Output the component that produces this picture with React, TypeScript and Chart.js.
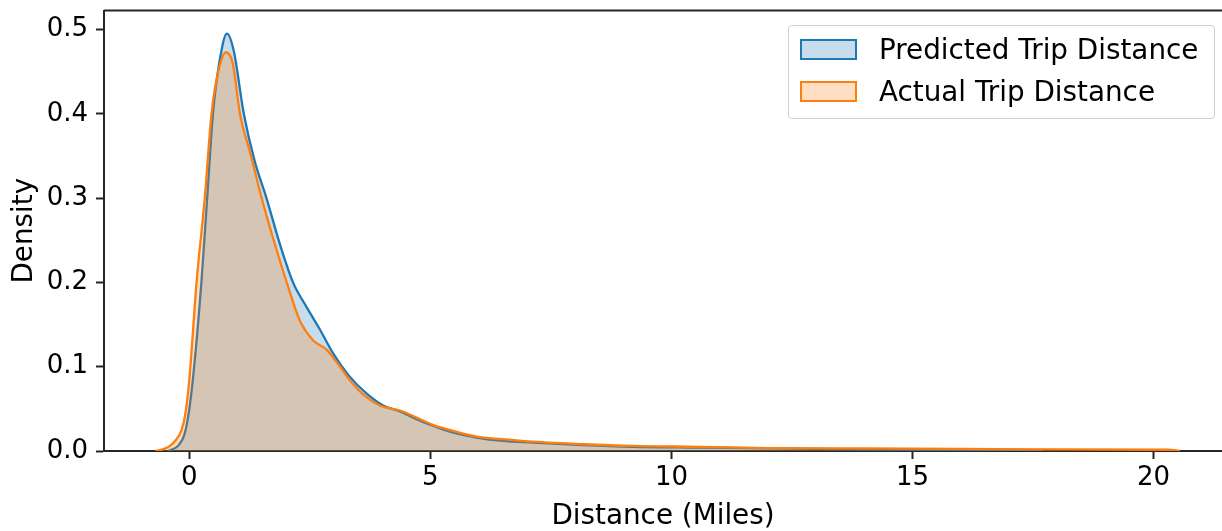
import { useRef, useEffect } from "react";
import { Chart, ChartConfiguration, Plugin, registerables } from "chart.js";

Chart.register(...registerables);

// KDE curves (x in miles, y density)
const predictedX = [-0.45, -0.35, -0.22, -0.1, 0.0, 0.1, 0.25, 0.37, 0.49, 0.62, 0.78, 0.92, 1.13, 1.35, 1.6, 1.88, 2.15, 2.43, 2.7, 2.98, 3.3, 3.68, 4.02, 4.37, 4.7, 5.05, 5.4, 5.96, 6.5, 7.13, 8.17, 9.2, 10.6, 12, 14, 16, 17.2, 17.7];
const predictedY = [0, 0.002, 0.007, 0.02, 0.05, 0.1, 0.2, 0.3, 0.4, 0.46, 0.495, 0.475, 0.4, 0.345, 0.3, 0.245, 0.2, 0.171, 0.145, 0.116, 0.09, 0.068, 0.054, 0.047, 0.038, 0.03, 0.023, 0.016, 0.012, 0.01, 0.007, 0.005, 0.004, 0.003, 0.002, 0.0015, 0.001, 0];

const actualX = [-0.7, -0.55, -0.4, -0.28, -0.16, -0.08, 0.0, 0.15, 0.32, 0.46, 0.6, 0.76, 0.9, 1.05, 1.28, 1.5, 1.75, 2.02, 2.29, 2.57, 2.85, 3.1, 3.33, 3.65, 3.95, 4.37, 4.7, 5.05, 5.4, 5.96, 6.5, 7.13, 8.17, 9.2, 10.6, 12, 14, 16, 18, 20.3, 20.55];
const actualY = [0, 0.002, 0.006, 0.013, 0.025, 0.045, 0.085, 0.2, 0.3, 0.4, 0.45, 0.473, 0.46, 0.4, 0.35, 0.3, 0.25, 0.2, 0.155, 0.131, 0.12, 0.102, 0.084, 0.065, 0.054, 0.048, 0.04, 0.031, 0.025, 0.017, 0.014, 0.011, 0.008, 0.006, 0.005, 0.0035, 0.003, 0.0025, 0.002, 0.0015, 0];

const seriesLabels = ["Predicted Trip Distance", "Actual Trip Distance"];
const xTitle = "Distance (Miles)";
const yTitle = "Density";

const FONT = "'DejaVu Sans', sans-serif";
const BLUE = "#1f77b4";
const ORANGE = "#ff7f0e";
const AXIS = "#262626";

// matplotlib-style top spine (right spine is cut off in the reference)
const topSpine: Plugin = {
  id: "topSpine",
  afterDraw(chart) {
    const { ctx, chartArea } = chart;
    ctx.save();
    ctx.strokeStyle = AXIS;
    ctx.lineWidth = 2;
    ctx.beginPath();
    ctx.moveTo(chartArea.left, chartArea.top);
    ctx.lineTo(chartArea.right, chartArea.top);
    ctx.stroke();
    ctx.restore();
  },
};

export default function App() {
  const chartRef = useRef<HTMLCanvasElement>(null);
  const chartInstanceRef = useRef<Chart | null>(null);

  useEffect(() => {
    if (!chartRef.current) return;
    if (chartInstanceRef.current) chartInstanceRef.current.destroy();
    const ctx = chartRef.current.getContext("2d");
    if (!ctx) return;

    const config: ChartConfiguration<"line"> = {
      type: "line",
      data: {
        datasets: [
          {
            label: seriesLabels[0],
            data: predictedX.map((x, i) => ({ x, y: predictedY[i] })),
            borderColor: BLUE,
            backgroundColor: "rgba(31, 119, 180, 0.25)",
            borderWidth: 2.3,
            fill: "origin",
            pointRadius: 0,
            cubicInterpolationMode: "monotone",
            order: 1,
          },
          {
            label: seriesLabels[1],
            data: actualX.map((x, i) => ({ x, y: actualY[i] })),
            borderColor: ORANGE,
            backgroundColor: "rgba(255, 127, 14, 0.25)",
            borderWidth: 2.3,
            fill: "origin",
            pointRadius: 0,
            cubicInterpolationMode: "monotone",
            order: 0,
          },
        ],
      },
      options: {
        animation: false,
        responsive: true,
        maintainAspectRatio: false,
        layout: { padding: { top: 10.5, right: 0, left: 0, bottom: 0 } },
        plugins: {
          legend: { display: false },
          tooltip: { enabled: false },
          filler: { drawTime: "beforeDatasetDraw" },
        },
        scales: {
          x: {
            type: "linear",
            min: -1.77,
            max: 21.42,
            afterFit: (scale: any) => {
              scale.height = 80;
              scale.paddingLeft = 0;
              scale.paddingRight = 0;
            },
            ticks: {
              stepSize: 5,
              includeBounds: false,
              color: "#000",
              padding: 4,
              font: { family: FONT, size: 26 },
              callback: (v) => String(v),
            },
            grid: { drawOnChartArea: false, tickLength: 8, color: AXIS, tickWidth: 2 },
            border: { color: AXIS, width: 2 },
            title: {
              display: true,
              text: xTitle,
              color: "#000",
              font: { family: FONT, size: 27.8 },
              padding: { top: 0, bottom: -2 },
            },
          },
          y: {
            type: "linear",
            min: 0,
            max: 0.5225,
            afterFit: (scale: any) => {
              scale.width = 104;
              scale.paddingTop = 0;
              scale.paddingBottom = 0;
            },
            ticks: {
              stepSize: 0.1,
              includeBounds: false,
              color: "#000",
              padding: 8,
              font: { family: FONT, size: 26 },
              callback: (v) => Number(v).toFixed(1),
            },
            grid: { drawOnChartArea: false, tickLength: 8, color: AXIS, tickWidth: 2 },
            border: { color: AXIS, width: 2 },
            title: {
              display: true,
              text: yTitle,
              color: "#000",
              font: { family: FONT, size: 27.8 },
              padding: { top: 8, bottom: 0 },
            },
          },
        },
      },
      plugins: [topSpine],
    };

    chartInstanceRef.current = new Chart(ctx, config);

    return () => {
      if (chartInstanceRef.current) {
        chartInstanceRef.current.destroy();
        chartInstanceRef.current = null;
      }
    };
  }, []);

  const legendRow = (label: string, stroke: string, fill: string, top: number) => (
    <div style={{ position: "absolute", left: 11, top, display: "flex", alignItems: "center", height: 21 }}>
      <div style={{ width: 53, height: 17, border: `2px solid ${stroke}`, background: fill }} />
      <span style={{ marginLeft: 22, fontFamily: FONT, fontSize: 27.8, color: "#000", whiteSpace: "nowrap" }}>{label}</span>
    </div>
  );

  return (
    <div style={{ position: "absolute", left: 0, top: 0, width: 1222, height: 531, overflow: "hidden", background: "#fff" }}>
      <canvas ref={chartRef}></canvas>
      <div
        style={{
          position: "absolute",
          left: 788,
          top: 25,
          width: 425,
          height: 92,
          border: "1px solid #d0d0d0",
          borderRadius: 4,
          background: "rgba(255,255,255,0.8)",
        }}
      >
        {legendRow(seriesLabels[0], BLUE, "rgba(31, 119, 180, 0.25)", 13)}
        {legendRow(seriesLabels[1], ORANGE, "rgba(255, 127, 14, 0.25)", 55)}
      </div>
    </div>
  );
}
